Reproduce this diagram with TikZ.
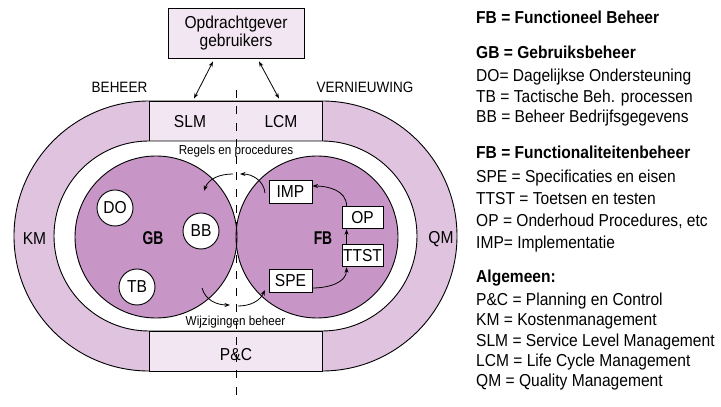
\documentclass[tikz,border=0pt]{standalone}
\usepackage{fontspec}
\setmainfont{Liberation Sans}[FakeStretch=0.9]
\newfontfamily\hubfont{Liberation Sans}[FakeStretch=0.75]
\usetikzlibrary{arrows.meta}
\definecolor{ringpurple}{HTML}{E0C4DF}
\definecolor{bandpurple}{HTML}{F2E6F2}
\definecolor{discpurple}{HTML}{C896C6}
\begin{document}
\begin{tikzpicture}[x=1pt,y=1pt,
  outline/.style={draw=black,line width=0.9pt},
  lbl/.style={inner sep=0pt,font=\fontsize{17.3}{19}\selectfont},
  sidelbl/.style={inner sep=0pt,font=\fontsize{15}{17}\selectfont},
  note/.style={inner sep=0pt,font=\fontsize{13}{15}\selectfont},
  hub/.style={inner sep=0pt,font=\hubfont\bfseries\fontsize{18.5}{20}\selectfont},
  bubble/.style={circle,outline,fill=white,minimum size=36pt,inner sep=0pt,font=\fontsize{17.3}{19}\selectfont},
  tag/.style={rectangle,outline,fill=white,minimum height=22.5pt,inner sep=0pt,font=\fontsize{17.3}{19}\selectfont},
  flow/.style={line width=0.8pt,-{Stealth[length=5.5pt,width=4pt]}},
  both/.style={line width=0.8pt,{Stealth[length=5.5pt,width=4pt]}-{Stealth[length=5.5pt,width=4pt]}},
  key/.style={anchor=base west,inner sep=0pt,font=\fontsize{17.3}{19}\selectfont},
  keyhead/.style={key,font=\bfseries\fontsize{17.3}{19}\selectfont},
]
\useasboundingbox (0,0) rectangle (721,407);

% outer ring (KM / QM)
\path[outline,fill=ringpurple] (149,306) -- (322,306)
  arc[start angle=90,end angle=-90,radius=135] -- (149,36)
  arc[start angle=270,end angle=90,radius=135] -- cycle;

% SLM/LCM band and P&C band
\node[outline,fill=bandpurple,minimum width=173pt,minimum height=40pt,inner sep=0pt] (topband) at (235.5,286) {};
\node[outline,fill=bandpurple,minimum width=173pt,minimum height=40pt,inner sep=0pt] (botband) at (235.5,56) {};

% white inner track
\path[outline,fill=white] (149,266) -- (322,266)
  arc[start angle=90,end angle=-90,radius=95] -- (149,76)
  arc[start angle=270,end angle=90,radius=95] -- cycle;

% the two domains
\node[circle,fill=discpurple,minimum size=162pt,inner sep=0pt] (gb) at (156,170) {};
\node[circle,fill=discpurple,minimum size=162pt,inner sep=0pt] (fb) at (317,170) {};
\draw[outline] (gb.center) circle[radius=81];
\draw[outline] (fb.center) circle[radius=81];

\node[hub] (gblabel) at (153,169) {GB};
\node[hub] (fblabel) at (323,169) {FB};

% GB processes
\node[bubble] (do) at (115,199) {DO};
\node[bubble] (bb) at (201,176) {BB};
\node[bubble] (tb) at (137,120) {TB};

% FB processes
\node[tag,minimum width=43pt] (imp) at (290.5,215) {IMP};
\node[tag,minimum width=43pt] (spe) at (290.5,126) {SPE};
\node[tag,minimum width=41pt] (op) at (362.5,189.5) {OP};
\node[tag,minimum width=41pt] (ttst) at (362.5,151.5) {TTST};

\draw[flow] ([xshift=5pt]op.north west) to[out=90,in=0] ([yshift=6pt]imp.east);
\draw[flow] ([xshift=5pt]ttst.north west) -- ([xshift=5pt]op.south west);
\draw[flow] ([yshift=-7pt]spe.east) to[out=0,in=-90] ([xshift=5pt]ttst.south west);

% client box
\node[outline,fill=bandpurple,minimum width=136pt,minimum height=50pt,inner sep=0pt,align=center,font=\fontsize{17.3}{18}\selectfont] (client) at (236,374) {Opdrachtgever\\gebruikers};
\draw[both] ([xshift=-23pt,yshift=-3pt]client.south) -- ([xshift=-41.5pt,yshift=2pt]topband.north);
\draw[both] ([xshift=23pt,yshift=-3pt]client.south) -- ([xshift=43.5pt,yshift=2pt]topband.north);

% exchange between the domains
\coordinate (r1) at (265,214);
\coordinate (r2) at (240,233);
\coordinate (r3) at (233,233);
\coordinate (r4) at (204,216);
\draw[flow] (r1) to[out=95,in=0] (r2);
\draw[flow] (r3) to[out=180,in=70] (r4);
\coordinate (w1) at (202,119);
\coordinate (w2) at (230,102);
\coordinate (w3) at (238,101);
\coordinate (w4) at (265,117);
\draw[flow] (w1) to[out=-75,in=180] (w2);
\draw[flow] (w3) to[out=0,in=245] (w4);

% labels
\node[sidelbl] (beheer) at (119.5,320) {BEHEER};
\node[sidelbl] (vern) at (365,320) {VERNIEUWING};
\node[lbl] (slm) at (190,285) {SLM};
\node[lbl] (lcm) at (281,285) {LCM};
\node[lbl] (km) at (34.5,168) {KM};
\node[lbl] (qm) at (441,168) {QM};
\node[lbl] (pc) at (236,52) {P\&C};
\node[note] (regels) at (236,256) {Regels en procedures};
\node[note] (wijz) at (235.5,85) {Wijzigingen beheer};

% dividing axis
\coordinate (axtop) at (236,317);
\coordinate (axbot) at (236,4);
\draw[line width=0.9pt,dash pattern=on 8pt off 8.5pt] (axtop) -- (axbot);

% legend
\node[keyhead] (k1) at (476,383) {FB = Functioneel Beheer};
\node[keyhead] (k2) at (476,348) {GB = Gebruiksbeheer};
\node[key] (k3) at (476,325) {DO= Dagelijkse Ondersteuning};
\node[key] (k4) at (476,304) {TB = Tactische Beh. processen};
\node[key] (k5) at (476,284) {BB = Beheer Bedrijfsgegevens};
\node[keyhead] (k6) at (476,248) {FB = Functionaliteitenbeheer};
\node[key] (k7) at (476,224) {SPE = Specificaties en eisen};
\node[key] (k8) at (476,202) {TTST = Toetsen en testen};
\node[key] (k9) at (476,180) {OP = Onderhoud Procedures, etc};
\node[key] (k10) at (476,158) {IMP= Implementatie};
\node[keyhead] (k11) at (476,124) {Algemeen:};
\node[key] (k12) at (476,101) {P\&C = Planning en Control};
\node[key] (k13) at (476,81) {KM = Kostenmanagement};
\node[key] (k14) at (476,60) {SLM = Service Level Management};
\node[key] (k15) at (476,40) {LCM = Life Cycle Management};
\node[key] (k16) at (476,20) {QM = Quality Management};
\end{tikzpicture}
\end{document}
